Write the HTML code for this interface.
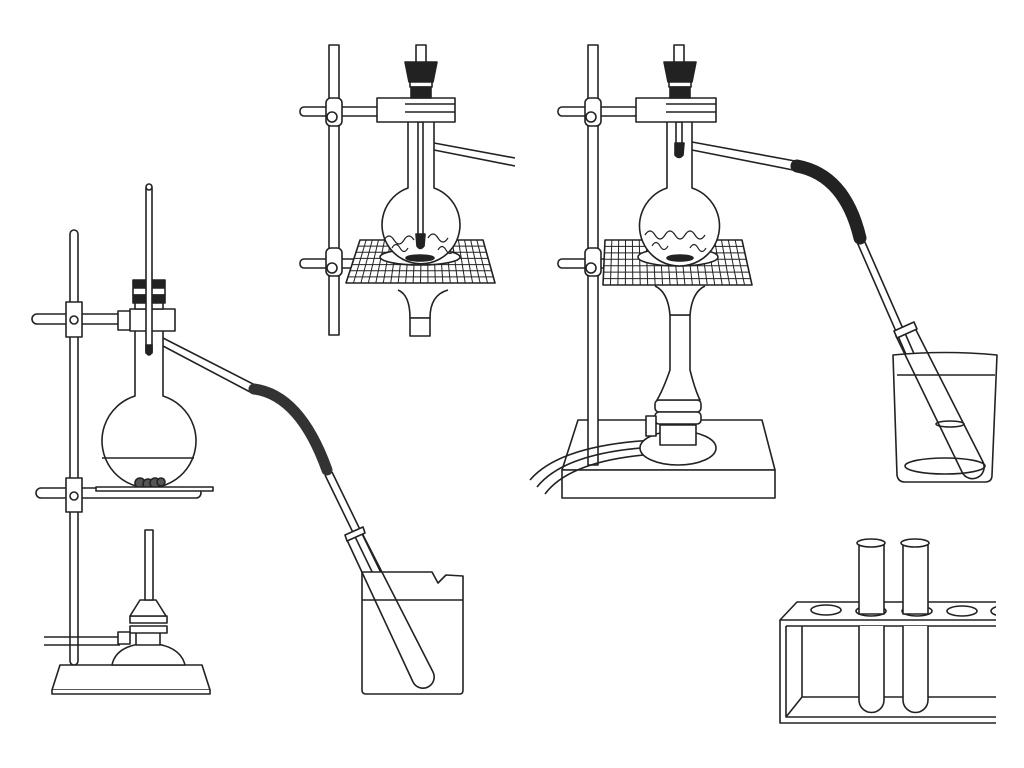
<!DOCTYPE html>
<html><head><meta charset="utf-8"><style>html,body{margin:0;padding:0;background:#fff}svg{display:block}</style></head>
<body>
<svg id="s" width="1024" height="768" viewBox="0 0 1024 768" xmlns="http://www.w3.org/2000/svg" fill="#fff" stroke="#222" stroke-width="1.6" stroke-linejoin="round">
<defs><clipPath id="rc"><rect x="770" y="520" width="226" height="220"/></clipPath></defs>
<!-- ===== LEFT SETUP ===== -->
<path d="M60 665 L202 665 L210 690 L52 690 Z"/>
<path d="M52 690 L52 694 L210 694 L210 690"/>
<rect x="70" y="230" width="8" height="435" rx="4"/>
<rect x="32" y="314" width="100" height="10" rx="5"/>
<rect x="66" y="302" width="16" height="35"/>
<circle cx="74" cy="320" r="4"/>
<path d="M118 311 L132 311 L132 330 L118 330 Z"/>
<path d="M135 330 L135 396 A47 47 0 1 0 163 396 L163 330"/>
<path d="M102 458 L194 458" fill="none"/>
<g fill="#555"><circle cx="140" cy="483" r="5"/><circle cx="148" cy="484" r="5"/><circle cx="155" cy="483" r="5"/><circle cx="161" cy="482" r="4"/></g>
<rect x="130" y="309" width="45" height="22"/>
<rect x="133" y="280" width="32" height="7" fill="#222"/>
<rect x="133" y="288" width="32" height="7"/>
<rect x="133" y="295" width="32" height="8" fill="#222"/>
<rect x="135" y="303" width="28" height="6"/>
<rect x="146" y="188" width="6" height="165"/>
<circle cx="149" cy="187" r="3"/>
<path d="M146 345 L152 345 L152 352 Q149 358 146 352 Z" fill="#222"/>
<path d="M163 338 L255 385 M163 346 L252 393" fill="none"/>
<path d="M254 389 Q300 395 327 470" fill="none" stroke="#333" stroke-width="11" stroke-linecap="round"/>
<path d="M325 475 L415 660 M332 472 L422 657" fill="none"/>
<path d="M362 572 L362 690 Q362 694 366 694 L460 694 Q463 694 463 690 L463 576 L446 575 L438 583 L432 572 Z"/>
<path d="M362 600 L463 600" fill="none"/>
<path d="M347 540 L362 533 L433 672 A11 11 0 0 1 413 682 Z" fill="none"/>
<path d="M345 535 L363 527 L365 533 L347 541 Z"/>
<rect x="36" y="488" width="165" height="10" rx="5"/>
<rect x="96" y="487" width="117" height="4"/>
<rect x="66" y="478" width="16" height="34"/>
<circle cx="74" cy="496" r="4"/>
<path d="M44 637 L120 637 M44 645 L120 645" fill="none"/>
<path d="M112 665 Q116 645 148 643 Q180 645 185 665 Z"/>
<rect x="136" y="628" width="24" height="17"/>
<rect x="130" y="616" width="37" height="7"/>
<rect x="130" y="626" width="37" height="7"/>
<rect x="118" y="632" width="12" height="12"/>
<path d="M140 600 L156 600 L166 616 L130 616 Z"/>
<rect x="145" y="530" width="8" height="70"/>

<!-- ===== MIDDLE TOP SETUP ===== -->
<rect x="329" y="45" width="10" height="290"/>
<rect x="300" y="107" width="80" height="9" rx="4"/>
<rect x="300" y="259" width="60" height="9" rx="4"/>
<rect x="326" y="98" width="16" height="28" rx="5"/>
<rect x="326" y="248" width="16" height="28" rx="5"/>
<circle cx="332" cy="117" r="5"/><circle cx="332" cy="268" r="5"/>
<path d="M360 240 L483 240 L495 283 L346 283 Z"/>
<g id="gl1" fill="none" stroke-width="1"></g>
<ellipse cx="420" cy="257" rx="40" ry="8"/>
<path d="M408 122 L408 188 A39 39 0 1 0 434 188 L434 122"/>
<path d="M384 240 q5-8 10 0 q5 8 10 0 q5-8 10 0 M428 238 q5-8 10 0 q5 8 10 0 M392 248 q4-7 8 0 q4 7 8 0 M438 250 q4-7 8 0 q4 7 8 0" fill="none" stroke-width="1.2"/>
<ellipse cx="420" cy="258" rx="14" ry="3" fill="#222"/>
<rect x="418" y="122" width="5" height="120"/>
<path d="M416 234 L425 234 L424 246 Q420 251 417 246 Z" fill="#222"/>
<path d="M434 143 L515 158 M434 150 L515 166" fill="none"/>
<rect x="377" y="98" width="78" height="24"/>
<path d="M405 104 L455 104 M405 112 L455 112" fill="none"/>
<path d="M405 62 L437 62 L433 82 L409 82 Z" fill="#222"/>
<rect x="410" y="82" width="22" height="5"/>
<rect x="411" y="87" width="20" height="11" fill="#222"/>
<rect x="416" y="45" width="10" height="17"/>
<path d="M398 290 Q410 295 410 318 L430 318 Q430 295 448 290" />
<rect x="410" y="318" width="20" height="18"/>

<!-- ===== RIGHT SETUP ===== -->
<path d="M578 420 L762 420 L775 470 L562 470 Z"/>
<rect x="562" y="470" width="213" height="28"/>
<rect x="588" y="45" width="10" height="420"/>
<rect x="558" y="107" width="80" height="9" rx="4"/>
<rect x="558" y="259" width="50" height="9" rx="4"/>
<rect x="585" y="98" width="16" height="28" rx="5"/>
<rect x="585" y="248" width="16" height="28" rx="5"/>
<circle cx="591" cy="117" r="5"/><circle cx="591" cy="268" r="5"/>
<path d="M530 480 Q560 445 655 440 M537 487 Q565 452 655 447 M545 494 Q570 460 655 454" fill="none"/>
<ellipse cx="678" cy="448" rx="38" ry="17"/>
<rect x="660" y="425" width="36" height="20"/>
<rect x="655" y="400" width="46" height="12" rx="4"/>
<rect x="655" y="412" width="46" height="12" rx="4"/>
<rect x="646" y="416" width="10" height="20"/>
<path d="M670 315 L690 315 L690 370 Q695 390 700 400 L657 400 Q663 390 670 370 Z"/>
<path d="M655 286 Q668 292 670 315 L690 315 Q692 292 705 286"/>
<path d="M605 240 L742 240 L752 285 L603 285 Z"/>
<g id="gl2" fill="none" stroke-width="1"></g>
<ellipse cx="678" cy="257" rx="40" ry="9"/>
<path d="M667 122 L667 188 A40 40 0 1 0 692 188 L692 122"/>
<path d="M645 235 q5-8 10 0 q5 8 10 0 q5-8 10 0 q5 8 10 0 q5-8 10 0 q5 8 10 0 M652 246 q4-7 8 0 q4 7 8 0 M690 248 q4-7 8 0 q4 7 8 0" fill="none" stroke-width="1.2"/>
<ellipse cx="680" cy="258" rx="13" ry="3" fill="#222"/>
<rect x="676" y="122" width="6" height="25"/>
<path d="M675 143 L684 143 L683 155 Q679 160 675 155 Z" fill="#222"/>
<path d="M692 142 L795 161 M692 150 L793 170" fill="none"/>
<path d="M797 166 Q845 175 860 238" fill="none" stroke="#222" stroke-width="13" stroke-linecap="round"/>
<path d="M857 242 L952 460 M864 240 L959 456" fill="none"/>
<rect x="636" y="98" width="80" height="24"/>
<path d="M666 104 L716 104 M666 112 L716 112" fill="none"/>
<path d="M664 62 L696 62 L692 82 L668 82 Z" fill="#222"/>
<rect x="669" y="82" width="22" height="5"/>
<rect x="670" y="87" width="20" height="11" fill="#222"/>
<rect x="674" y="45" width="10" height="17"/>
<path d="M893 355 L897 475 Q898 482 905 482 L985 482 Q992 482 992 475 L997 355 Q945 350 893 355 Z"/>
<path d="M897 375 L995 375" fill="none"/>
<ellipse cx="945" cy="466" rx="40" ry="8" fill="none"/>
<path d="M896 336 L915 328 L983 462 A11 11 0 0 1 962 472 Z" fill="none"/>
<path d="M894 331 L914 322 L917 329 L897 338 Z"/>
<ellipse cx="950" cy="424" rx="14" ry="3" fill="none"/>

<!-- ===== RACK ===== -->
<g clip-path="url(#rc)">
<path d="M780 620 L797 602 L1000 602 L1000 620 Z"/>
<path d="M780 620 L780 723 L1000 723 M786 626 L1000 626 M786 626 L786 717 L1000 717 M786 717 L802 697 L802 626 M802 697 L1000 697" fill="none"/>
<ellipse cx="826" cy="610" rx="15" ry="5"/>
<ellipse cx="871" cy="611" rx="15" ry="5"/>
<ellipse cx="917" cy="611" rx="15" ry="5"/>
<ellipse cx="962" cy="611" rx="15" ry="5"/>
<ellipse cx="1003" cy="611" rx="12" ry="5"/>
<path d="M859 626 L859 700 A12.5 12.5 0 0 0 884 700 L884 626"/>
<path d="M859 545 L884 545 L884 614 L859 614 Z"/>
<ellipse cx="871" cy="543" rx="14" ry="4"/>
<path d="M903 545 L928 545 L928 614 L903 614 Z"/>
<path d="M903 626 L903 700 A12.5 12.5 0 0 0 928 700 L928 626"/>
<ellipse cx="915" cy="543" rx="14" ry="4"/>
</g>
</svg>
<script>
function grid(id,tx1,tx2,bx1,bx2,ty,by,nx,ny){var g=document.getElementById(id),s="";
for(var i=0;i<=nx;i++){var t=i/nx;s+='<line x1="'+(tx1+(tx2-tx1)*t)+'" y1="'+ty+'" x2="'+(bx1+(bx2-bx1)*t)+'" y2="'+by+'"/>';}
for(var j=0;j<=ny;j++){var u=j/ny,y=ty+(by-ty)*u;s+='<line x1="'+(tx1+(bx1-tx1)*u)+'" y1="'+y+'" x2="'+(tx2+(bx2-tx2)*u)+'" y2="'+y+'"/>';}
g.innerHTML=s;}
grid("gl1",360,483,346,495,240,283,20,7);
grid("gl2",605,742,603,752,240,285,20,7);
</script>
</body></html>
